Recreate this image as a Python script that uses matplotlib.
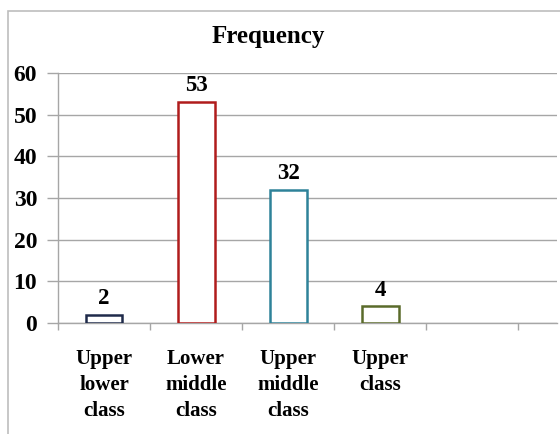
import matplotlib.pyplot as plt
from matplotlib.patches import Rectangle

categories = ["Upper\nlower\nclass", "Lower\nmiddle\nclass", "Upper\nmiddle\nclass", "Upper\nclass"]
values = [2, 53, 32, 4]
edge_colors = ["#1F2A4A", "#B01C1C", "#2E8299", "#5A6B2A"]
y_ticks = [0, 10, 20, 30, 40, 50, 60]

plt.rcParams['font.family'] = ['Liberation Serif', 'DejaVu Serif']
plt.rcParams['font.weight'] = 'bold'

fig = plt.figure(figsize=(5.6, 4.34), dpi=100)
fig.patches.append(Rectangle((8 / 560, -0.1), 1.2, 1 - 11 / 434 + 0.1,
                             transform=fig.transFigure, fill=False,
                             edgecolor="#BDBDBD", linewidth=1.2))
ax = fig.add_axes([58 / 560, 111 / 434, 499 / 560, 250 / 434])

x = list(range(len(categories)))
ax.bar(x, values, width=0.4, facecolor="white", edgecolor=edge_colors,
       linewidth=1.8, zorder=3)
for xi, v in zip(x, values):
    ax.text(xi, v + 1.4, str(v), ha="center", va="bottom",
            fontsize=16.5, fontweight="bold")

ax.set_ylim(0, 60)
ax.set_xlim(-0.5, 4.92)
ax.set_yticks(y_ticks)
ax.set_yticklabels([str(t) for t in y_ticks], fontsize=17, fontweight="bold")
ax.yaxis.grid(True, color="#A6A6A6", linewidth=1, zorder=0)
ax.tick_params(axis="y", length=8, color="#A6A6A6", width=1, pad=7)

ax.set_xticks(x)
ax.set_xticklabels(categories, fontsize=15, fontweight="bold", linespacing=1.38)
ax.set_xticks([i - 0.5 for i in range(6)], minor=True)
ax.tick_params(axis="x", which="major", length=0, pad=19)
ax.tick_params(axis="x", which="minor", length=5, color="#A6A6A6", width=1)

for s in ["top", "right"]:
    ax.spines[s].set_visible(False)
for s in ["left", "bottom"]:
    ax.spines[s].set_color("#A6A6A6")
    ax.spines[s].set_linewidth(1)

fig.text(268 / 560, 1 - 37 / 434, "Frequency", ha="center", va="center",
         fontsize=18, fontweight="bold")

fig.savefig("out.png", dpi=100)
